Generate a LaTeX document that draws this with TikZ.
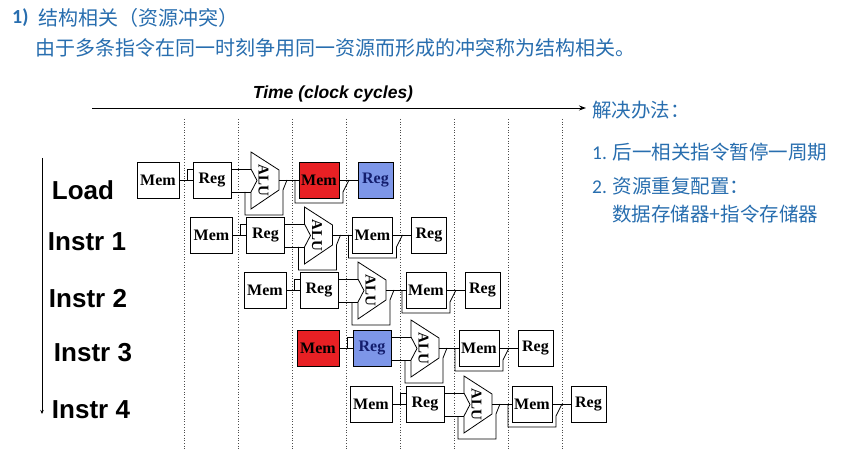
\documentclass[tikz,border=0pt]{standalone}
\usepackage{fontspec}
\setmainfont{Liberation Serif}
\newfontfamily\cjkf{Noto Sans CJK SC}
\newfontfamily\helf{Liberation Sans}
\newfontfamily\calf{Carlito}
\usetikzlibrary{arrows.meta}
\definecolor{txtblue}{RGB}{40,110,175}
\definecolor{hazred}{RGB}{232,32,36}
\definecolor{hazblue}{RGB}{125,150,232}
\definecolor{regtxt}{RGB}{20,30,110}
\tikzset{
  unit/.style={draw,line width=0.8pt,fill=white,inner sep=0pt,outer sep=0pt,
    minimum height=36pt,font=\bfseries\fontsize{16}{16}\selectfont},
  plainunit/.style={},
  hazmem/.style={fill=hazred},
  hazreg/.style={fill=hazblue,text=regtxt},
  wire/.style={line width=0.8pt},
  alushape/.style={draw,line width=0.8pt,fill=white},
  alutext/.style={font=\bfseries\fontsize{15}{15}\selectfont,rotate=-90,inner sep=0pt},
  rowlab/.style={font=\helf\bfseries\fontsize{26}{26}\selectfont,inner sep=0pt},
  cyc/.style={dotted,line width=0.7pt,black!70},
  bluetxt/.style={text=txtblue,inner sep=0pt,anchor=west,font=\cjkf\fontsize{19.5}{20}\selectfont},
}
\newcommand{\pipeRow}[7]{%
\begin{scope}[shift={(#1,#2)}]
  \node[unit,#4,minimum width=42pt,anchor=north west] (#3m1) at (0,0) {Mem};
  \node[unit,#5,minimum width=38pt,anchor=north west] (#3r1) at (56,0) {Reg};
  \node[unit,#6,minimum width=40pt,anchor=north west] (#3m2) at (162,0) {Mem};
  \node[unit,#7,minimum width=35pt,anchor=north west] (#3r2) at (221,0) {Reg};
  \draw[alushape] (114,-10) -- (142,8) -- (142,28) -- (114,47) -- (114,30)
     -- (120,18.5) -- (114,7) -- cycle;
  \node[alutext] (#3alu) at (126.5,18.5) {ALU};
  \coordinate (#3ai1) at (114,7);
  \coordinate (#3ai2) at (114,30);
  \coordinate (#3ao) at (142,18);
  \coordinate (#3bpa) at (108,30);
  \coordinate (#3bpb) at (150,18);
  \coordinate (#3bpc) at (158,18);
  \coordinate (#3bpd) at (212,18);
  % Mem -> Reg
  \draw[wire] (#3m1.east) -- (#3r1.west);
  \draw[wire] ([xshift=8pt]#3m1.east) |- ([yshift=11pt]#3r1.west);
  % Reg -> ALU
  \draw[wire] ([yshift=11pt]#3r1.east) -- (#3ai1);
  \draw[wire] ([yshift=-12pt]#3r1.east) -- (#3ai2);
  \draw[wire] (#3bpa) -- (108,53) -- (146,53) -- (146,28) -- (#3bpb);
  % ALU -> Mem
  \draw[wire] (#3ao) -- (#3m2.west);
  % Mem -> Reg
  \draw[wire] (#3m2.east) -- (#3r2.west);
  \draw[wire] (#3bpc) -- (158,41) -- (206,41) -- (206,30) -- (#3bpd);
\end{scope}}
\begin{document}
\begin{tikzpicture}[x=1pt,y=-1pt]
\useasboundingbox[fill=white] (0,0) rectangle (865,449);
% title texts
\node[bluetxt,font=\calf\bfseries\fontsize{20}{20}\selectfont] (tnum) at (12,18) {1)};
\node[bluetxt,font=\cjkf\fontsize{20}{20}\selectfont] (ttl) at (38,18) {结构相关（资源冲突）};
\node[bluetxt,font=\cjkf\fontsize{20}{20}\selectfont] (tdef) at (35,48) {由于多条指令在同一时刻争用同一资源而形成的冲突称为结构相关。};
% time axis
\node[font=\helf\bfseries\itshape\fontsize{17.5}{18}\selectfont,inner sep=0pt] (tlab) at (333,94) {Time (clock cycles)};
\coordinate (ta) at (92,108);
\coordinate (tb) at (586,108);
\draw[line width=0.9pt,-{Stealth[length=7pt,width=5pt]}] (ta) -- (tb);
% cycle dividers
\foreach \k in {0,...,7}{
  \coordinate (cyt\k) at (184+54*\k,119);
  \coordinate (cyb\k) at (184+54*\k,449);
  \draw[cyc] (cyt\k) -- (cyb\k);
}
% instruction axis
\coordinate (ia) at (42,158);
\coordinate (ib) at (42,414);
\draw[line width=0.9pt,-{Stealth[length=4pt,width=3.5pt]}] (ia) -- (ib);
\node[rowlab] (lload) at (83,190) {Load};
\node[rowlab] (li1) at (87,242) {Instr 1};
\node[rowlab] (li2) at (88,299) {Instr 2};
\node[rowlab] (li3) at (93,353) {Instr 3};
\node[rowlab] (li4) at (91,410) {Instr 4};
% pipelines
\pipeRow{137}{162}{a}{plainunit}{plainunit}{hazmem}{hazreg}
\pipeRow{190.5}{217}{b}{plainunit}{plainunit}{plainunit}{plainunit}
\pipeRow{244}{272}{c}{plainunit}{plainunit}{plainunit}{plainunit}
\pipeRow{297}{330}{d}{hazmem}{hazreg}{plainunit}{plainunit}
\pipeRow{350}{386}{e}{plainunit}{plainunit}{plainunit}{plainunit}
% solution text
\node[bluetxt] (s0) at (592,110) {解决办法：};
\node[bluetxt] (s1) at (592,152) {{\calf 1.} 后一相关指令暂停一周期};
\node[bluetxt] (s2) at (592,186) {{\calf 2.} 资源重复配置：};
\node[bluetxt] (s3) at (612,214) {数据存储器+指令存储器};
\end{tikzpicture}
\end{document}
